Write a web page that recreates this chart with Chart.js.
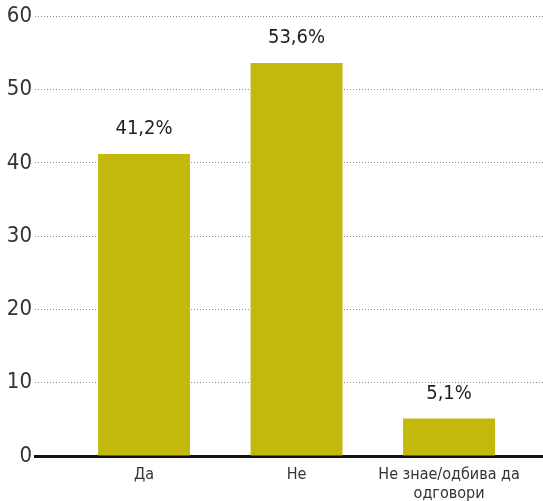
<!DOCTYPE html>
<html>
<head>
<meta charset="utf-8">
<script src="https://cdn.jsdelivr.net/npm/chart.js@4"></script>
<style>
html,body{margin:0;padding:0;background:#fff;}
#wrap{width:543px;height:501px;position:relative;}
</style>
</head>
<body>
<div id="wrap"><canvas id="c" width="543" height="501"></canvas></div>
<script>
const categories = [["Да"], ["Не"], ["Не знае/одбива да", "одговори"]];
const values = [41.2, 53.6, 5.1];
const valueLabels = ["41,2%", "53,6%", "5,1%"];
const yTicks = [0, 10, 20, 30, 40, 50, 60];

const FONT = '"Liberation Sans Narrow", "DejaVu Sans Condensed", "Roboto", sans-serif';
const BAR = '#c3b80c';

const labelPlugin = {
  id: 'valueLabels',
  afterDatasetsDraw(chart) {
    const ctx = chart.ctx;
    const meta = chart.getDatasetMeta(0);
    ctx.save();
    ctx.font = '20px ' + FONT;
    ctx.fillStyle = '#1e1e1e';
    ctx.textAlign = 'center';
    ctx.textBaseline = 'alphabetic';
    meta.data.forEach((bar, i) => {
      ctx.fillText(valueLabels[i], bar.x, bar.y - 20);
    });
    ctx.restore();
  }
};

new Chart(document.getElementById('c'), {
  type: 'bar',
  data: {
    datasets: [{
      data: values.map((v, i) => ({x: i, y: v})),
      backgroundColor: BAR,
      borderWidth: 0,
      categoryPercentage: 1,
      barPercentage: 0.603
    }]
  },
  options: {
    responsive: false,
    animation: false,
    events: [],
    layout: {padding: {top: 16, right: 0, left: 0, bottom: 0}},
    plugins: {legend: {display: false}, tooltip: {enabled: false}},
    scales: {
      x: {
        type: 'linear',
        offset: false,
        min: -0.715,
        max: 2.616,
        afterBuildTicks: (s) => { s.ticks = categories.map((c, i) => ({value: i})); },
        afterFit: (s) => { s.height = 45; },
        grid: {display: false, drawTicks: false, offset: false},
        border: {display: true, color: '#111', width: 3},
        ticks: {
          autoSkip: false,
          maxRotation: 0,
          padding: 9,
          color: '#333',
          font: {family: FONT, size: 16},
          callback: (v) => categories[v] || ''
        }
      },
      y: {
        min: 0,
        max: 60,
        afterBuildTicks: (s) => { s.ticks = yTicks.map(v => ({value: v})); },
        afterFit: (s) => { s.width = 35; },
        grid: {color: '#8a8a8a', lineWidth: 1, drawTicks: false},
        border: {display: false, dash: [1, 2]},
        ticks: {
          padding: 3,
          color: '#333',
          font: {family: FONT, size: 22}
        }
      }
    }
  },
  plugins: [labelPlugin]
});
</script>
</body>
</html>
